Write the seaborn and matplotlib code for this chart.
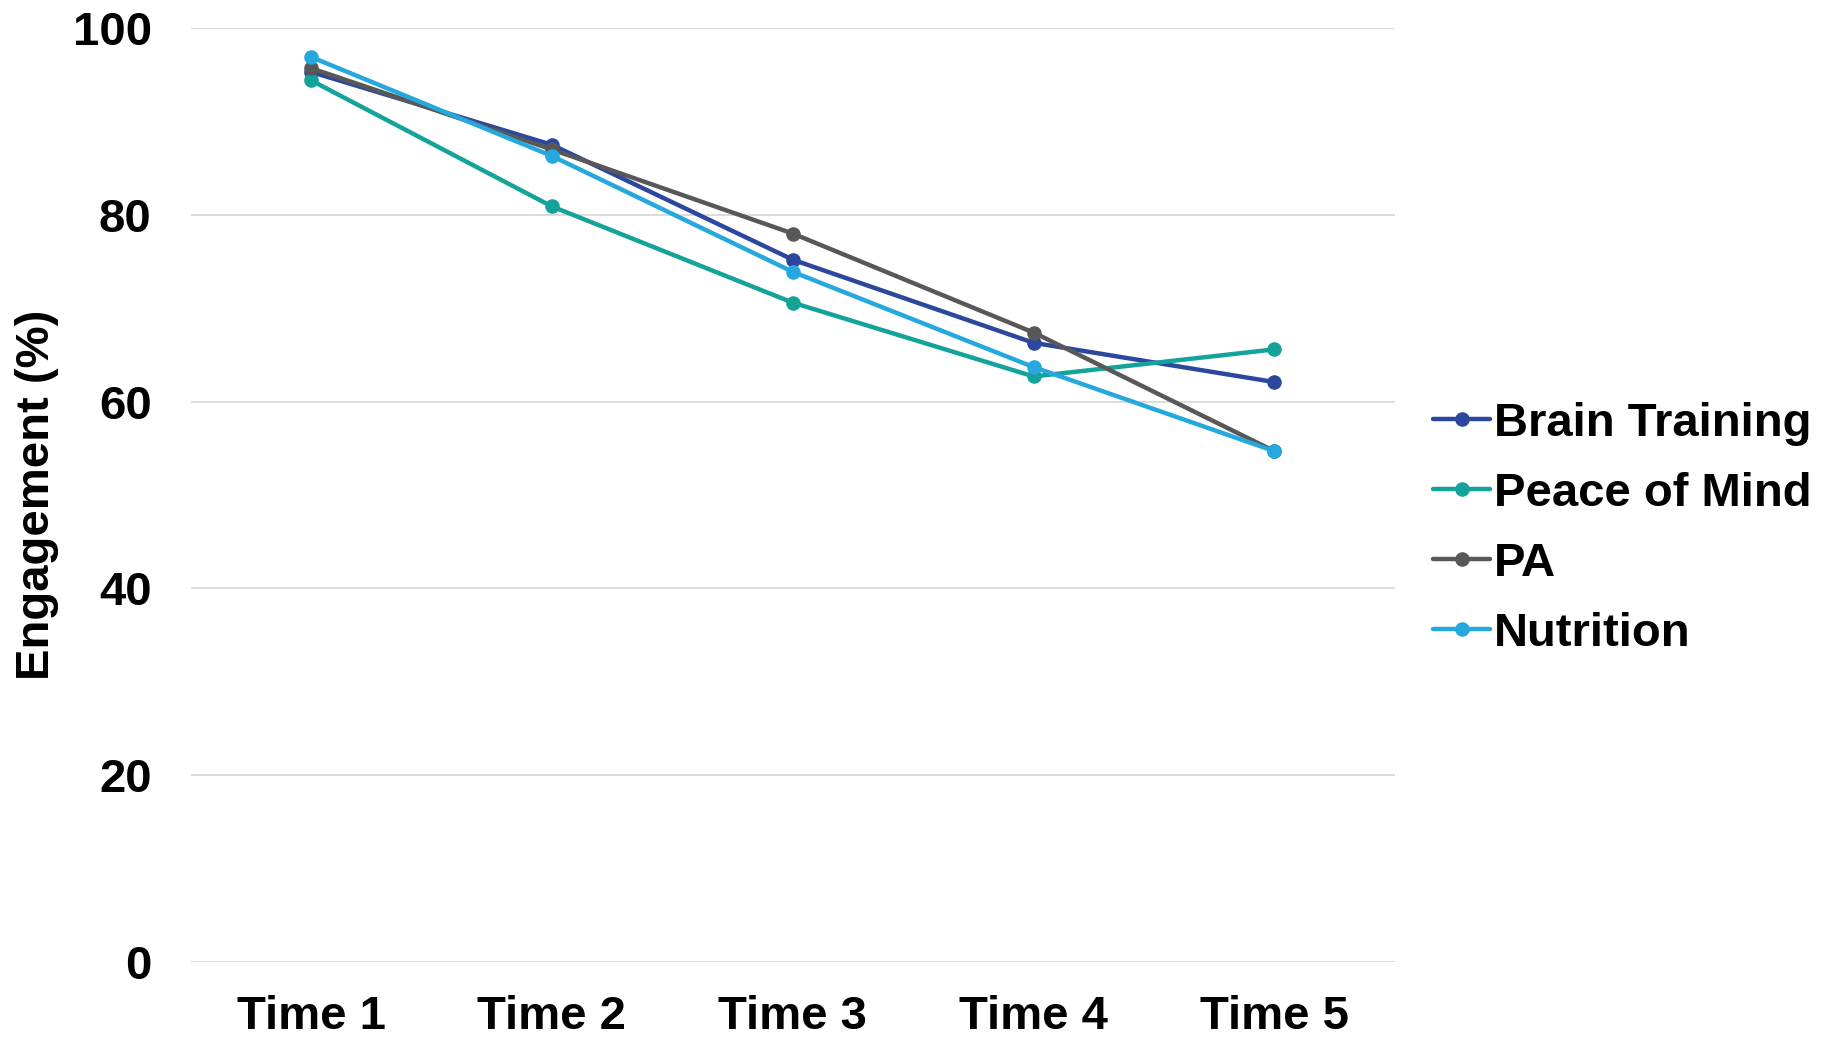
import pandas as pd
import matplotlib
matplotlib.use('Agg')
import matplotlib.pyplot as plt
import seaborn as sns

# Engagement values
times = ['Time 1', 'Time 2', 'Time 3', 'Time 4', 'Time 5']
brain_training = [95.3, 87.5, 75.2, 66.3, 62.1]
peace_of_mind = [94.4, 80.9, 70.6, 62.7, 65.6]
pa = [95.7, 87.0, 78.0, 67.4, 54.7]
nutrition = [96.9, 86.3, 73.9, 63.7, 54.7]

groups = ['Brain Training', 'Peace of Mind', 'PA', 'Nutrition']
palette = {'Brain Training': '#2B479E', 'Peace of Mind': '#14A39A',
           'PA': '#58585A', 'Nutrition': '#25A8DD'}

df = pd.DataFrame({
    'Time': times * 4,
    'Engagement': brain_training + peace_of_mind + pa + nutrition,
    'Group': sum([[g] * len(times) for g in groups], []),
})

sns.set_theme(style='white')
plt.rcParams['font.family'] = ['Liberation Sans', 'DejaVu Sans']
plt.rcParams['font.weight'] = 'bold'
plt.rcParams['text.color'] = 'black'
plt.rcParams['axes.labelcolor'] = 'black'
plt.rcParams['xtick.color'] = 'black'
plt.rcParams['ytick.color'] = 'black'

fig = plt.figure(figsize=(18.33, 10.39), dpi=100)
ax = fig.add_axes([0.104, 0.074, 0.657, 0.899])

sns.lineplot(data=df, x='Time', y='Engagement', hue='Group', hue_order=groups,
             palette=palette, marker='o', markersize=10.5, markeredgewidth=0,
             linewidth=3.2, sort=False, ax=ax, legend=True)

ax.set_xlim(-0.5, 4.5)
ax.set_ylim(0, 100)
ax.set_yticks([0, 20, 40, 60, 80, 100])
ax.grid(axis='y', color='#D9D9D9', linewidth=1.3)
ax.set_axisbelow(True)
for s in ax.spines.values():
    s.set_visible(False)
ax.tick_params(axis='both', length=0, labelsize=34)
ax.tick_params(axis='x', pad=24)
ax.tick_params(axis='y', pad=28)
for lbl in ax.get_xticklabels() + ax.get_yticklabels():
    lbl.set_fontweight('bold')
ax.set_xlabel('')
ax.set_ylabel('Engagement (%)', fontsize=34, fontweight='bold', labelpad=10)

handles, labels = ax.get_legend_handles_labels()
ax.get_legend().remove()
fig.legend(handles, labels, loc='center left', bbox_to_anchor=(0.782, 0.491),
           frameon=False, handlelength=1.2, handletextpad=0.08,
           labelspacing=0.55, borderaxespad=0, borderpad=0,
           prop={'weight': 'bold', 'size': 34})

fig.savefig('out.png', dpi=100)
